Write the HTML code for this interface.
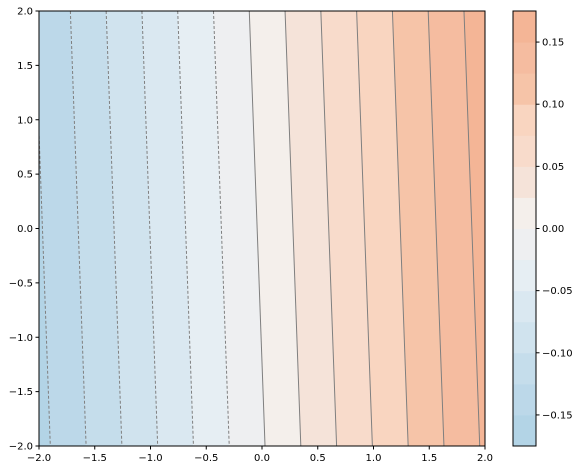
<!DOCTYPE html>
<html><head><meta charset="utf-8"><style>
body{margin:0;background:#fff;}
svg{display:block;font-family:"DejaVu Sans","Liberation Sans",sans-serif;font-size:10px;}
</style></head><body>
<svg id="chart" width="579" height="470"></svg>
<script>
const levels=[-0.175,-0.15,-0.125,-0.1,-0.075,-0.05,-0.025,0,0.025,0.05,0.075,0.1,0.125,0.15,0.175];
const bandColors=["#b3d4e6","#bcd8e9","#c5ddeb","#d0e3ee","#dae8f1","#e6eef3","#eeeff1","#f4efeb","#f5e3d9","#f8dbcb","#f9d5c0","#f6c4a8","#f5bca0","#f4b596"];
const xTicks=[-2,-1.5,-1,-0.5,0,0.5,1,1.5,2];
const yTicks=[-2,-1.5,-1,-0.5,0,0.5,1,1.5,2];
const cbTicks=[-0.15,-0.1,-0.05,0,0.05,0.1,0.15];
const fieldSlope=0.0779, fieldOffset=0.0435, fieldTilt=0.0353;

const NS="http://www.w3.org/2000/svg";
const svg=document.getElementById('chart');
const L=39,R=485,T=11,B=446;
const sx=v=>L+(v+2)/4*(R-L);
const sy=v=>B-(v+2)/4*(B-T);
const cbL=513,cbR=536;
const cy=v=>B-(v-levels[0])/(levels[levels.length-1]-levels[0])*(B-T);
function mk(tag,attrs,parent){const e=document.createElementNS(NS,tag);for(const k in attrs)e.setAttribute(k,attrs[k]);(parent||svg).appendChild(e);return e;}
// x where field == level at given y
const xAt=(lev,y)=>lev/fieldSlope-fieldOffset-fieldTilt*y;
const defs=mk('defs',{});
const cp=mk('clipPath',{id:'pc'},defs);
mk('rect',{x:L,y:T,width:R-L,height:B-T},cp);
const g=mk('g',{'clip-path':'url(#pc)'});


for(let i=0;i<bandColors.length;i++){
  let lo=levels[i],hi=levels[i+1];
  let xlT=i===0?-10:xAt(lo,2), xlB=i===0?-10:xAt(lo,-2);
  let xhT=i===bandColors.length-1?10:xAt(hi,2), xhB=i===bandColors.length-1?10:xAt(hi,-2);
  const p=mk('polygon',{points:`${sx(xlT)},${sy(2)} ${sx(xhT)},${sy(2)} ${sx(xhB)},${sy(-2)} ${sx(xlB)},${sy(-2)}`,fill:bandColors[i],stroke:bandColors[i],'stroke-width':0.5},g);
  
  
}
for(let i=1;i<levels.length-1;i++){
  const lev=levels[i];
  const ln=mk('line',{x1:sx(xAt(lev,2)),y1:sy(2),x2:sx(xAt(lev,-2)),y2:sy(-2),stroke:'#7f7f7f','stroke-width':1,'stroke-dasharray':lev<0?'3,2':'none'},g);
  
  
}
const frame=mk('rect',{x:L,y:T,width:R-L,height:B-T,fill:'none',stroke:'#000','stroke-width':1});


xTicks.forEach(v=>{
  mk('line',{x1:sx(v),y1:B,x2:sx(v),y2:B+3.5,stroke:'#000'});
  const t=mk('text',{x:sx(v),y:B+15,'text-anchor':'middle'});t.textContent=v.toFixed(1).replace('-','−');
  
  
});
yTicks.forEach(v=>{
  mk('line',{x1:L-3.5,y1:sy(v),x2:L,y2:sy(v),stroke:'#000'});
  const t=mk('text',{x:L-6,y:sy(v)+3.5,'text-anchor':'end'});t.textContent=v.toFixed(1).replace('-','−');
  
  
});
for(let i=0;i<bandColors.length;i++){
  const r=mk('rect',{x:cbL,y:cy(levels[i+1]),width:cbR-cbL,height:cy(levels[i])-cy(levels[i+1])+0.5,fill:bandColors[i]});
  
  
}
const cf=mk('rect',{x:cbL,y:T,width:cbR-cbL,height:B-T,fill:'none',stroke:'#000'});


cbTicks.forEach(v=>{
  mk('line',{x1:cbR,y1:cy(v),x2:cbR+3.5,y2:cy(v),stroke:'#000'});
  const t=mk('text',{x:cbR+6,y:cy(v)+3.5});t.textContent=v.toFixed(2).replace('-','−');
  
  
});
</script>
</body></html>
